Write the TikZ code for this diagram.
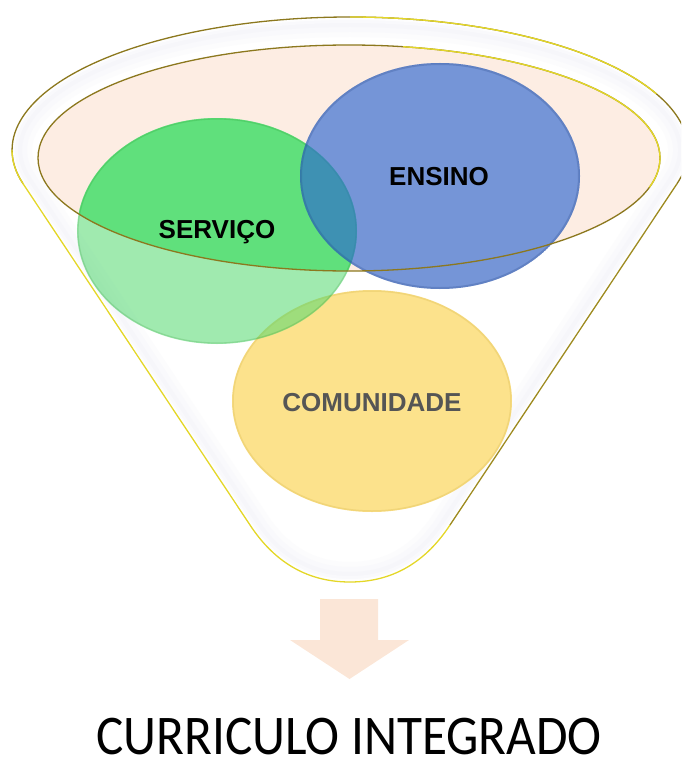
\documentclass[tikz,border=0pt]{standalone}
\usepackage{fontspec}
\setmainfont{Liberation Sans}
\newfontfamily\calibrifont{Carlito}

\definecolor{rimolive}{RGB}{140,120,30}
\definecolor{rimyellow}{RGB}{228,215,40}
\definecolor{mouthpeach}{RGB}{253,237,227}
\definecolor{glasstint}{RGB}{226,226,240}
\definecolor{greenvivid}{RGB}{96,224,124}
\definecolor{greensoft}{RGB}{82,217,111}
\definecolor{bluebase}{RGB}{45,103,210}
\definecolor{bluelow}{RGB}{44,93,195}
\definecolor{sunbase}{RGB}{252,226,140}
\definecolor{sunedge}{RGB}{225,195,90}
\definecolor{arrowfill}{RGB}{251,230,215}
\definecolor{labelgrey}{RGB}{85,85,85}

\tikzset{
  bubbletext/.style={font=\bfseries\fontsize{26}{30}\selectfont, anchor=base},
  rimline/.style={line width=1.3pt, line join=round},
}

\begin{document}
\begin{tikzpicture}[x=1pt,y=-1pt]
\useasboundingbox (0,0) rectangle (681,760);
\clip (0,0) rectangle (681,760);

% funnel body
\fill[white] (23,183.7) -- (250,525) .. controls (273,560) and (305,582) .. (350,582)
  .. controls (395,582) and (427,560) .. (450,525) -- (677,183.7)
  arc[start angle=-14.67, end angle=194.67, x radius=338pt, y radius=133pt] -- cycle;

% soft glassy band along the inside of the funnel edge
\begin{scope}
  \clip (23,183.7) -- (250,525) .. controls (273,560) and (305,582) .. (350,582)
    .. controls (395,582) and (427,560) .. (450,525) -- (677,183.7)
    arc[start angle=-14.67, end angle=194.67, x radius=338pt, y radius=133pt] -- cycle;
  \foreach \w/\c in {40/12, 30/22, 20/32, 12/22, 6/8, 3/0} {
    \draw[line width=\w pt, color=glasstint!\c!white, line join=round]
      (23,183.7) -- (250,525) .. controls (273,560) and (305,582) .. (350,582)
      .. controls (395,582) and (427,560) .. (450,525) -- (677,183.7)
      arc[start angle=-14.67, end angle=194.67, x radius=338pt, y radius=133pt] -- cycle;
  }
\end{scope}

% funnel mouth
\fill[mouthpeach] (349,158) ellipse[x radius=311pt, y radius=113pt];

% COMUNIDADE bubble
\fill[sunbase] (372,401) ellipse[x radius=140pt, y radius=111pt];
\draw[sunedge, line width=1.5pt, opacity=.4] (372,401) ellipse[x radius=139pt, y radius=110pt];

% SERVICO bubble: paler below the mouth, vivid inside it
\fill[greensoft, opacity=.55] (217,231) ellipse[x radius=140pt, y radius=113pt];
\begin{scope}
  \clip (349,158) ellipse[x radius=311pt, y radius=113pt];
  \fill[greenvivid] (217,231) ellipse[x radius=140pt, y radius=113pt];
\end{scope}
\draw[green!45!black, line width=1.2pt, opacity=.15] (217,231) ellipse[x radius=139pt, y radius=112pt];

% ENSINO bubble: one tone inside the mouth, an even tone below it
\begin{scope}
  \clip (349,158) ellipse[x radius=311pt, y radius=113pt];
  \fill[bluebase, opacity=.65] (440,176) ellipse[x radius=140pt, y radius=113pt];
\end{scope}
\begin{scope}
  \clip (440,176) ellipse[x radius=140pt, y radius=113pt];
  \fill[bluelow, opacity=.65, even odd rule] (440,176) ellipse[x radius=140pt, y radius=113pt]
    (349,158) ellipse[x radius=311pt, y radius=113pt];
\end{scope}
\draw[bluebase!60!black, line width=2pt, opacity=.22] (440,176) ellipse[x radius=139pt, y radius=112pt];

% mouth rim
\draw[rimolive, rimline] (349,158) ellipse[x radius=311pt, y radius=113pt];
\draw[rimyellow, rimline] (349,158) ++(80:311pt and 113pt)
  arc[start angle=80, end angle=-15, x radius=311pt, y radius=113pt];

% funnel outline
\draw[rimolive, rimline] (677,183.7)
  arc[start angle=-14.67, end angle=194.67, x radius=338pt, y radius=133pt];
\draw[rimyellow, rimline] (350,17)
  arc[start angle=90, end angle=25, x radius=338pt, y radius=133pt];
\draw[rimyellow, rimline] (12,150)
  arc[start angle=180, end angle=194.67, x radius=338pt, y radius=133pt]
  -- (250,525) .. controls (273,560) and (305,582) .. (350,582)
  .. controls (395,582) and (427,560) .. (450,525);
\draw[rimolive!80!rimyellow, rimline] (450,525) -- (677,183.7);

% labels
\node[bubbletext] (servico) at (217,238) {SERVIÇO};
\node[bubbletext] (ensino) at (439,185) {ENSINO};
\node[bubbletext, text=labelgrey] (comunidade) at (372,411) {COMUNIDADE};

% arrow towards the result
\fill[arrowfill] (320,599) -- (378,599) -- (378,640) -- (409,640) -- (349.5,679)
  -- (290,640) -- (320,640) -- cycle;

\node[font=\calibrifont\fontsize{56}{60}\selectfont, anchor=base, inner sep=0pt] (curriculo) at (349,754)
  {\scalebox{0.915}[1]{CURRICULO INTEGRADO}};
\end{tikzpicture}
\end{document}
